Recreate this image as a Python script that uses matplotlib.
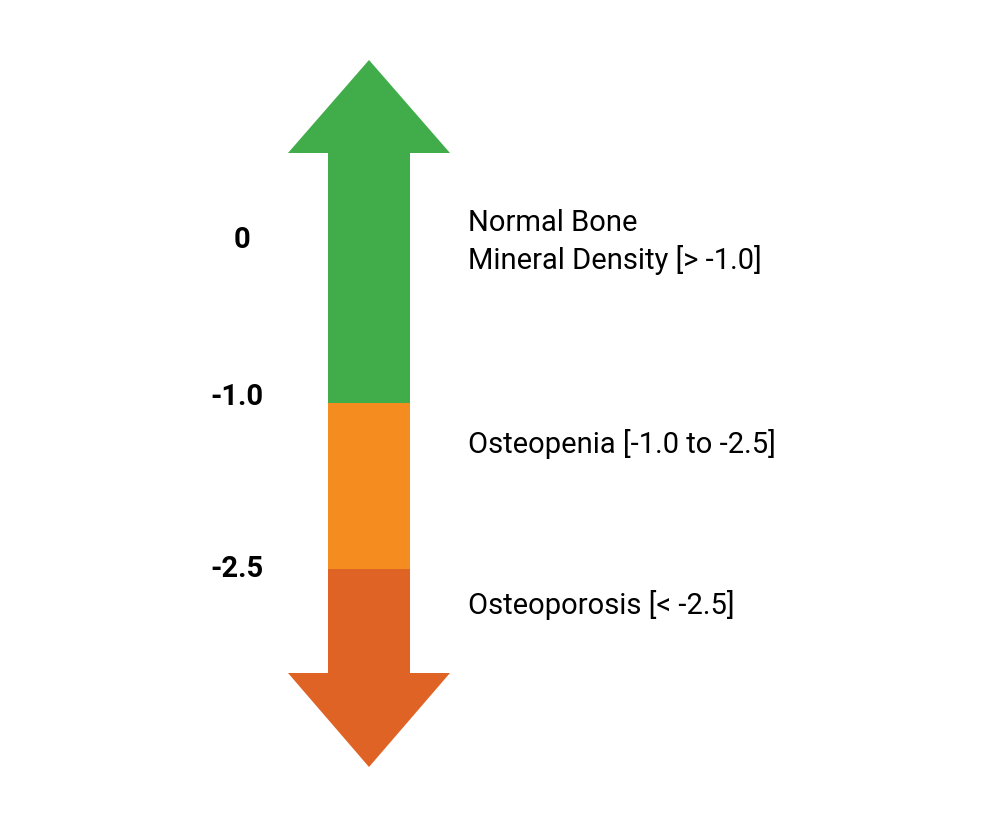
import matplotlib
matplotlib.use("Agg")
import matplotlib.pyplot as plt
from matplotlib.patches import Polygon, Rectangle

# Data
tick_labels = ["0", "-1.0", "-2.5"]
tick_pos = [240, 397, 569]
category_labels = ["Normal Bone\nMineral Density [> -1.0]", "Osteopenia [-1.0 to -2.5]", "Osteoporosis [< -2.5]"]
category_label_pos = [242, 444, 605]
segment_bounds = [153, 403, 569, 673]   # shaft segment edges
colors = ["#41ad4a", "#f48c1f", "#e06326"]

fig = plt.figure(figsize=(10.06, 8.36), dpi=100)
ax = fig.add_axes([0, 0, 1, 1])
ax.set_xlim(0, 1006)
ax.set_ylim(836, 0)
ax.axis("off")

sx0, sx1 = 328, 410
hx0, hx1 = 288, 450
cx = (hx0 + hx1) / 2
for i in range(3):
    ax.add_patch(Rectangle((sx0, segment_bounds[i]), sx1 - sx0,
                           segment_bounds[i + 1] - segment_bounds[i],
                           color=colors[i], lw=0))
ax.add_patch(Polygon([(hx0, segment_bounds[0]), (cx, 60), (hx1, segment_bounds[0])],
                     color=colors[0], lw=0))
ax.add_patch(Polygon([(hx0, segment_bounds[-1]), (cx, 767), (hx1, segment_bounds[-1])],
                     color=colors[-1], lw=0))

for t, y in zip(tick_labels, tick_pos):
    ax.text(264 if t != "0" else 250, y, t, ha="right", va="center",
            fontsize=21, fontweight="bold", family="Roboto")
for t, y in zip(category_labels, category_label_pos):
    ax.text(468, y, t, ha="left", va="center", fontsize=21,
            family="Roboto", linespacing=1.3)

fig.savefig("out.png", dpi=100)
